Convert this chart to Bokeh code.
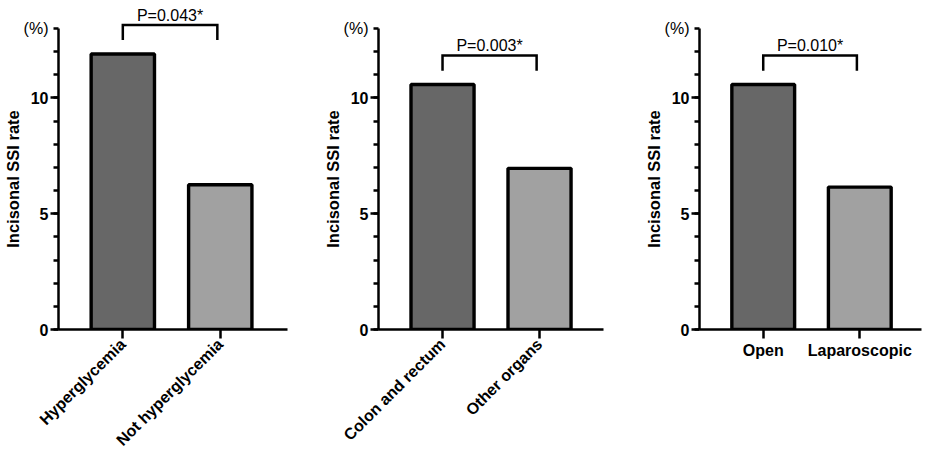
import math
from bokeh.plotting import figure
from bokeh.layouts import row
from bokeh.models import Range1d, FixedTicker
from bokeh.core.properties import value
from bokeh.embed import file_html
from bokeh.resources import INLINE

# ---- data ----
categories1 = ["Hyperglycemia", "Not hyperglycemia"]
rates1 = [11.9, 6.25]
pvalue1 = "P=0.043*"

categories2 = ["Colon and rectum", "Other organs"]
rates2 = [10.58, 6.96]
pvalue2 = "P=0.003*"

categories3 = ["Open", "Laparoscopic"]
rates3 = [10.58, 6.15]
pvalue3 = "P=0.010*"

y_major_ticks = [0, 5, 10]
y_minor_ticks = list(range(0, 14))
y_label = "Incisonal SSI rate"
unit_label = "(%)"
bar_colors = ["#676767", "#a1a1a1"]

FONT = "Liberation Sans"
Y_MAX = 13
FRAME_H = 302
TOP = 28
HEIGHT = 457
PX_PER_X = 98.3
PX_PER_Y = FRAME_H / Y_MAX


def make_panel(cats, rates, ptext, width, left, right, rotate):
    frame_w = width - left - right
    x0 = -0.16
    x1 = x0 + frame_w / PX_PER_X
    p = figure(width=width, height=HEIGHT, output_backend="svg", toolbar_location=None,
               x_range=Range1d(x0, x1), y_range=Range1d(0, Y_MAX),
               min_border_left=left, min_border_right=right,
               min_border_top=TOP, min_border_bottom=HEIGHT - TOP - FRAME_H)
    p.outline_line_color = None
    p.grid.visible = False
    p.background_fill_color = "white"
    p.border_fill_color = "white"

    xs = [i + 0.5 for i in range(len(cats))]
    p.vbar(x=xs, top=rates, bottom=0, width=0.65, fill_color=bar_colors[:len(cats)],
           line_color="black", line_width=3.4)

    # y axis
    ya = p.yaxis[0]
    ya.ticker = FixedTicker(ticks=y_major_ticks, minor_ticks=y_minor_ticks)
    ya.axis_line_width = 2.5
    ya.major_tick_line_width = 2.5
    ya.minor_tick_line_width = 2.5
    ya.major_tick_out = 8
    ya.major_tick_in = 0
    ya.minor_tick_out = 5
    ya.minor_tick_in = 0
    ya.major_label_standoff = 2
    ya.major_label_text_font = FONT
    ya.major_label_text_font_style = "bold"
    ya.major_label_text_font_size = "16px"
    ya.major_label_text_color = "black"
    ya.axis_label = y_label
    ya.axis_label_text_font = FONT
    ya.axis_label_text_font_style = "bold"
    ya.axis_label_text_font_size = "16.5px"
    ya.axis_label_text_color = "black"
    ya.axis_label_standoff = 6

    # x axis
    xa = p.xaxis[0]
    xa.ticker = FixedTicker(ticks=xs, minor_ticks=[])
    xa.major_label_overrides = {x: c for x, c in zip(xs, cats)}
    xa.axis_line_width = 2.5
    xa.major_tick_line_width = 2.5
    xa.major_tick_out = 9
    xa.major_tick_in = 0
    xa.major_label_standoff = 3
    xa.major_label_text_font = FONT
    xa.major_label_text_font_style = "bold"
    xa.major_label_text_font_size = "16px"
    xa.major_label_text_color = "black"
    if rotate:
        xa.major_label_orientation = math.pi / 4
    else:
        xa.major_label_orientation = "horizontal"

    # unit label
    p.text(x=[x0], y=[Y_MAX], text=[unit_label], text_align="right", text_baseline="middle",
           x_offset=-10, text_font=value(FONT), text_font_size="16px", text_color="black",
           level="overlay")

    # significance bracket
    top = max(rates) + 1.25
    leg = max(rates) + 0.6
    bx = [xs[0], xs[0], xs[1] - 0.03, xs[1] - 0.03]
    by = [leg, top, top, leg]
    p.line(x=bx, y=by, line_color="black", line_width=2.5, line_join="miter", level="overlay")
    ty = top + 9.7 / PX_PER_Y
    p.text(x=[(xs[0] + xs[1] - 0.03) / 2], y=[ty], text=[ptext], text_align="center",
           text_baseline="alphabetic", text_font=value(FONT), text_font_size="16px",
           text_color="black", level="overlay")
    return p


f1 = make_panel(categories1, rates1, pvalue1, 320, 56, 33, True)
f2 = make_panel(categories2, rates2, pvalue2, 321, 55, 38, True)
f3 = make_panel(categories3, rates3, pvalue3, 288, 54, 8, False)

layout = row(f1, f2, f3)
open("out.html", "w").write(file_html(layout, INLINE))
